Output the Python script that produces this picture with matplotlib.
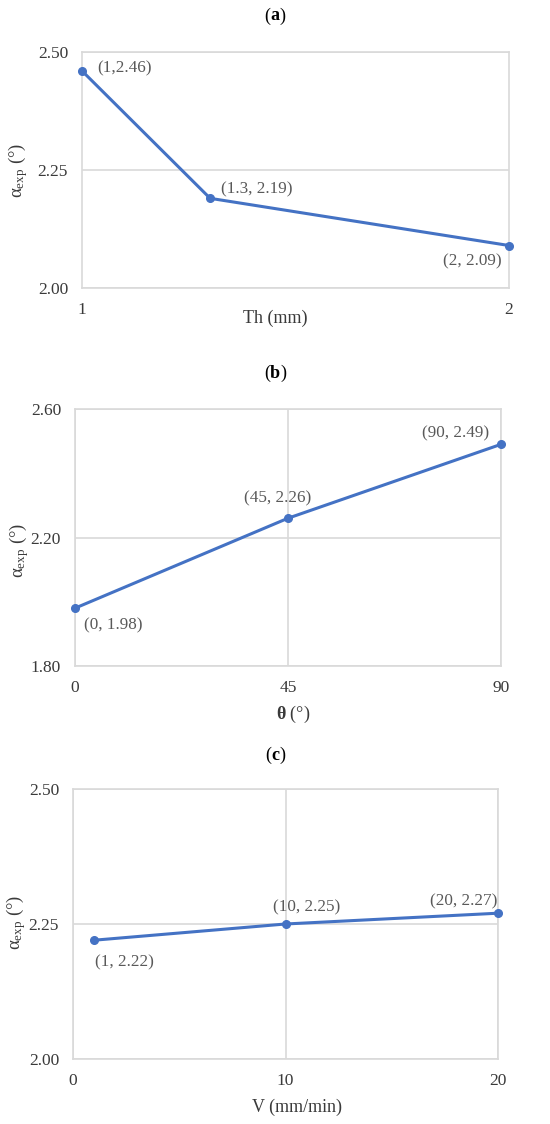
"""Three stacked line charts: alpha_exp versus Th, theta and V."""
import matplotlib
matplotlib.use("Agg")
import matplotlib.pyplot as plt

plt.rcParams["font.family"] = ["Liberation Serif", "DejaVu Serif"]
plt.rcParams["mathtext.fontset"] = "custom"
plt.rcParams["mathtext.rm"] = "Liberation Serif"
plt.rcParams["mathtext.it"] = "Liberation Serif:italic"
plt.rcParams["mathtext.bf"] = "Liberation Serif:bold"

# data
th_x = [1, 1.3, 2]
th_y = [2.46, 2.19, 2.09]
th_labels = ["(1,2.46)", "(1.3, 2.19)", "(2, 2.09)"]

theta_x = [0, 45, 90]
theta_y = [1.98, 2.26, 2.49]
theta_labels = ["(0, 1.98)", "(45, 2.26)", "(90, 2.49)"]

v_x = [1, 10, 20]
v_y = [2.22, 2.25, 2.27]
v_labels = ["(1, 2.22)", "(10, 2.25)", "(20, 2.27)"]

BLUE = "#4472C4"
GRID = "#D9D9D9"
TXT = "#3A3A3A"
LBL = "#595959"
PX = 0.72  # pixel -> point at dpi 100

W, H = 550, 1124
fig = plt.figure(figsize=(W / 100, H / 100), dpi=100)


def px_axes(left, top, right, bottom):
    return fig.add_axes([left / W, 1 - bottom / H, (right - left) / W, (bottom - top) / H])


def style(ax, xlim, ylim, xticks, yticks, yfmt):
    ax.set_xlim(*xlim)
    ax.set_ylim(*ylim)
    ax.set_xticks(xticks)
    ax.set_yticks(yticks)
    ax.set_yticklabels([yfmt.format(t) for t in yticks])
    ax.grid(True, color=GRID, lw=1.2)
    ax.set_axisbelow(True)
    for s in ax.spines.values():
        s.set_color(GRID)
        s.set_linewidth(1.2)
    ax.tick_params(length=0, labelsize=12.5, colors=TXT, pad=10)


def draw(ax, x, y, labels, offsets):
    ax.plot(x, y, color=BLUE, lw=2.2, marker="o", ms=5.5, clip_on=False, zorder=3)
    for xi, yi, lab, (dx, dy, ha) in zip(x, y, labels, offsets):
        ax.annotate(lab, (xi, yi), xytext=(dx * PX, -dy * PX), textcoords="offset points",
                    ha=ha, va="center", fontsize=12.3, color=LBL)


def labels(ax, xlabel, xpos, ylabel, ypos):
    ax.set_xlabel(xlabel, fontsize=13, color=TXT)
    ax.xaxis.label.set_verticalalignment("center")
    ax.xaxis.set_label_coords(*xpos)
    ax.set_ylabel(ylabel, fontsize=13.5, color=TXT)
    ax.yaxis.label.set_verticalalignment("center")
    ax.yaxis.set_label_coords(*ypos)


def panel_title(letter, y_px, half_w):
    y = 1 - y_px / H
    fig.text(0.5, y, letter, ha="center", va="center", fontsize=13, fontweight="bold")
    fig.text(0.5 - half_w / W, y, "(", ha="right", va="center", fontsize=13)
    fig.text(0.5 + half_w / W, y, ")", ha="left", va="center", fontsize=13)


YLAB = r"α$_{\mathrm{exp}}$ (°)"

# (a)
ax = px_axes(82, 52, 509, 288)
style(ax, (1, 2), (2.0, 2.5), [1, 2], [2.0, 2.25, 2.5], "{:.2f}")
ax.grid(False, axis="x")
draw(ax, th_x, th_y, th_labels, [(15, -2, "left"), (11, -9, "left"), (-7, 16, "right")])
labels(ax, "Th (mm)", (0.452, -0.127), YLAB, (-0.15, 0.5))
panel_title("a", 16, 4.5)

# (b)
ax = px_axes(75, 409, 501, 666)
style(ax, (0, 90), (1.8, 2.6), [0, 45, 90], [1.8, 2.2, 2.6], "{:.2f}")
draw(ax, theta_x, theta_y, theta_labels, [(9, 17, "left"), (-10, -20, "center"), (-12, -11, "right")])
labels(ax, r"$\mathbf{\theta}$ (°)", (0.512, -0.19), YLAB, (-0.132, 0.451))
panel_title("b", 373, 5)

# (c)
ax = px_axes(73, 789, 498, 1059)
style(ax, (0, 20), (2.0, 2.5), [0, 10, 20], [2.0, 2.25, 2.5], "{:.2f}")
draw(ax, v_x, v_y, v_labels, [(1, 22, "left"), (21, -17, "center"), (-1, -12, "right")])
labels(ax, "V (mm/min)", (0.527, -0.178), YLAB, (-0.135, 0.507))
panel_title("c", 755, 4)

fig.savefig("out.png", dpi=100, facecolor="white")
